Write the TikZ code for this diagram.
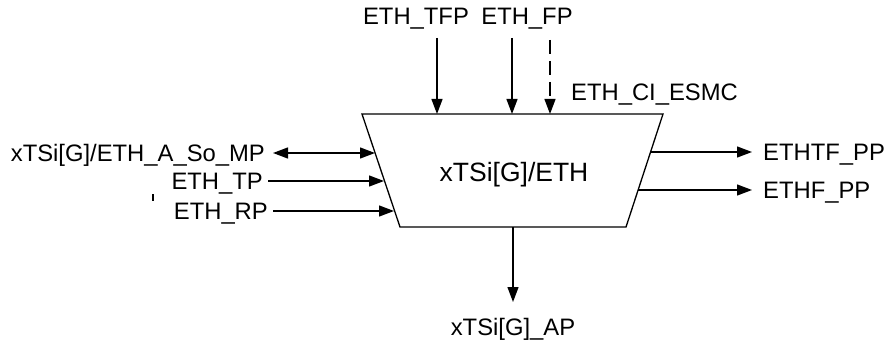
\documentclass[tikz,border=0pt]{standalone}
\usepackage{fontspec}
\setmainfont{Liberation Sans}
\usepackage{tikz}
\usetikzlibrary{arrows.meta,positioning,calc}

\begin{document}
\begin{tikzpicture}[x=1pt,y=-1pt,>={Triangle[length=15pt,width=11pt]},
 lbl/.style={inner sep=0pt,font=\fontsize{23.8}{26}\selectfont},
 sig/.style={->,line width=1.3pt}]
 \useasboundingbox (0,0) rectangle (885,342);
 % block
 \coordinate (tl) at (362,114);
 \coordinate (tr) at (663,114);
 \coordinate (br) at (626,227);
 \coordinate (bl) at (400,227);
 \draw[line width=1.3pt] (tl) -- (tr) -- (br) -- (bl) -- cycle;
 \node[lbl,anchor=base,font=\fontsize{26.5}{28}\selectfont] (blk) at (514,181) {xTSi[G]/ETH};
 % top inputs
 \node[lbl,anchor=base] (tfp) at (416,25) {ETH\_TFP};
 \node[lbl,anchor=base] (fp) at (527,25) {ETH\_FP};
 \node[lbl,anchor=base west] (esmc) at (571,101) {ETH\_CI\_ESMC};
 \coordinate (tfp0) at (437,38); \coordinate (tfp1) at (437,114);
 \coordinate (fp0) at (512,38); \coordinate (fp1) at (512,114);
 \coordinate (ci0) at (550,40); \coordinate (ci1) at (550,114);
 \draw[sig] (tfp0) -- (tfp1);
 \draw[sig] (fp0) -- (fp1);
 \draw[sig,dash pattern=on 14pt off 7pt] (ci0) -- (ci1);
 % left inputs
 \node[lbl,anchor=base east] (mp) at (265,161) {xTSi[G]/ETH\_A\_So\_MP};
 \node[lbl,anchor=base east] (tp) at (263,189) {ETH\_TP};
 \node[lbl,anchor=base east] (rp) at (268,219) {ETH\_RP};
 \coordinate (mp0) at (273,153); \coordinate (mp1) at (375,153);
 \coordinate (tp0) at (268,181); \coordinate (tp1) at (384,181);
 \coordinate (rp0) at (273,211); \coordinate (rp1) at (394,211);
 \draw[sig,<->] (mp0) -- (mp1);
 \draw[sig] (tp0) -- (tp1);
 \draw[sig] (rp0) -- (rp1);
 \draw[line width=1.4pt] (153,194) -- (153,201);
 % right outputs
 \node[lbl,anchor=base west] (tfpp) at (763,160) {ETHTF\_PP};
 \node[lbl,anchor=base west] (fpp) at (763,198) {ETHF\_PP};
 \coordinate (tfpp0) at (651,152); \coordinate (tfpp1) at (752,152);
 \coordinate (fpp0) at (638,190); \coordinate (fpp1) at (752,190);
 \draw[sig] (tfpp0) -- (tfpp1);
 \draw[sig] (fpp0) -- (fpp1);
 % bottom output
 \node[lbl,anchor=base] (ap) at (513,335) {xTSi[G]\_AP};
 \coordinate (ap0) at (513,227); \coordinate (ap1) at (513,302);
 \draw[sig] (ap0) -- (ap1);
\end{tikzpicture}
\end{document}
